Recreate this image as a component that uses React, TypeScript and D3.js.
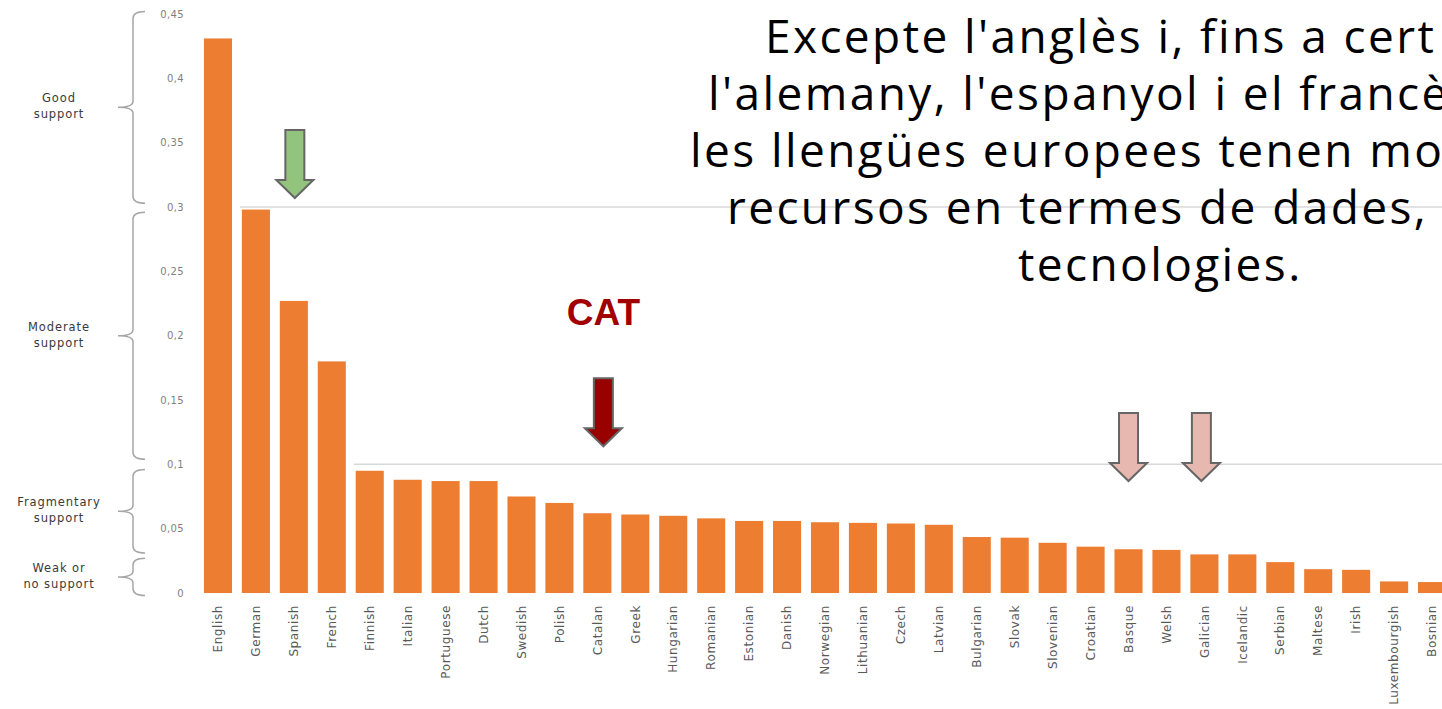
import React from "react";
import * as d3 from "d3";

const categories = [
  "English", "German", "Spanish", "French", "Finnish", "Italian", "Portuguese", "Dutch",
  "Swedish", "Polish", "Catalan", "Greek", "Hungarian", "Romanian", "Estonian", "Danish",
  "Norwegian", "Lithuanian", "Czech", "Latvian", "Bulgarian", "Slovak", "Slovenian", "Croatian",
  "Basque", "Welsh", "Galician", "Icelandic", "Serbian", "Maltese", "Irish", "Luxembourgish", "Bosnian",
];
const values = [
  0.431, 0.298, 0.227, 0.180, 0.095, 0.088, 0.087, 0.087,
  0.075, 0.070, 0.062, 0.061, 0.060, 0.058, 0.056, 0.056,
  0.055, 0.0545, 0.054, 0.053, 0.0435, 0.043, 0.039, 0.036,
  0.034, 0.0335, 0.030, 0.030, 0.024, 0.0185, 0.018, 0.009, 0.0085,
];
const tickValues = [0, 0.05, 0.1, 0.15, 0.2, 0.25, 0.3, 0.35, 0.4, 0.45];
const gridValues = [0.3, 0.1];

const supportGroups = [
  { lines: ["Good", "support"], top: 0.452, bottom: 0.303 },
  { lines: ["Moderate", "support"], top: 0.296, bottom: 0.104 },
  { lines: ["Fragmentary", "support"], top: 0.096, bottom: 0.031 },
  { lines: ["Weak or", "no support"], top: 0.027, bottom: -0.002 },
];

const arrows = [
  { cat: "Spanish", tip: 0.307, fill: "#93c47d", dx: 1 },
  { cat: "Catalan", tip: 0.114, fill: "#990000", dx: 6 },
  { cat: "Basque", tip: 0.087, fill: "#e6b8af", dx: 0 },
  { cat: "Galician", tip: 0.087, fill: "#e6b8af", dx: -3 },
];

const titleLines = [
  { text: "Excepte l'anglès i, fins a cert punt,", x: 765 },
  { text: "l'alemany, l'espanyol i el francès,", x: 708 },
  { text: "les llengües europees tenen molt pocs", x: 690 },
  { text: "recursos en termes de dades, eines i", x: 727 },
  { text: "tecnologies.", x: 1018 },
];

const W = 1442;
const H = 709;

export default function App() {
  const x = d3.scaleBand<string>().domain(categories).range([199, 1451]).paddingInner(0.26).paddingOuter(0.13);
  const y = d3.scaleLinear().domain([0, 0.45]).range([593, 14]);
  const bw = x.bandwidth();
  const fmt = (v: number) => String(+v.toFixed(2)).replace(".", ",");

  const brace = (yt: number, yb: number) => {
    const ym = (yt + yb) / 2;
    const xv = 133, xh = 145, xt = 118;
    return `M${xh},${yt} Q${xv},${yt} ${xv},${yt + 7} L${xv},${ym - 6} Q${xv},${ym} ${xt},${ym} Q${xv},${ym} ${xv},${ym + 6} L${xv},${yb - 7} Q${xv},${yb} ${xh},${yb}`;
  };

  const arrowPath = (tx: number, ty: number) => {
    const sw = 9.5, hw = 18.5, hh = 18, len = 68;
    return `M${tx - sw},${ty - len} L${tx + sw},${ty - len} L${tx + sw},${ty - hh} L${tx + hw},${ty - hh} L${tx},${ty} L${tx - hw},${ty - hh} L${tx - sw},${ty - hh} Z`;
  };

  return (
    <svg width={W} height={H} style={{ position: "absolute", left: 0, top: 0, background: "#fff" }}>
      <rect x={0} y={0} width={W} height={H} fill="#fff" />
      {gridValues.map((g) => {
        const idx = values.findIndex((v) => v < g);
        const x0 = (x(categories[idx]) as number) - 2;
        return <line key={g} x1={x0} x2={W} y1={y(g)} y2={y(g)} stroke="#d9d9d9" strokeWidth={1.5} />;
      })}
      {categories.map((c, i) => (
        <rect key={c} x={x(c)} y={y(values[i])} width={bw} height={y(0) - y(values[i])} fill="#ed7d31" />
      ))}
      {tickValues.map((t) => (
        <text key={t} x={184} y={y(t)} dy="0.35em" textAnchor="end" fontFamily="DejaVu Sans" fontSize={10} letterSpacing={0.4} fill="#7f7f7f">
          {fmt(t)}
        </text>
      ))}
      {supportGroups.map((g) => {
        const yt = y(g.top), yb = y(g.bottom), ym = (yt + yb) / 2;
        return (
          <g key={g.lines[0]}>
            <path d={brace(yt, yb)} fill="none" stroke="#a6a6a6" strokeWidth={1.5} />
            <text x={59} y={ym - 5} textAnchor="middle" fontFamily="DejaVu Sans" fontSize={11.5} letterSpacing={0.9} fill="#3a3a3a">
              {g.lines[0]}
            </text>
            <text x={59} y={ym + 11} textAnchor="middle" fontFamily="DejaVu Sans" fontSize={11.5} letterSpacing={0.9} fill="#3a3a3a">
              {g.lines[1]}
            </text>
          </g>
        );
      })}
      {categories.map((c) => {
        const cx = (x(c) as number) + bw / 2;
        return (
          <text key={c} transform={`translate(${cx},605) rotate(-90)`} dy="0.35em" textAnchor="end" fontFamily="DejaVu Sans" fontSize={12} letterSpacing={0.6} fill="#595959">
            {c}
          </text>
        );
      })}
      {arrows.map((a) => {
        const cx = (x(a.cat) as number) + bw / 2 + a.dx;
        return <path key={a.cat} d={arrowPath(cx, y(a.tip))} fill={a.fill} stroke="#666666" strokeWidth={2} strokeLinejoin="miter" />;
      })}
      <text x={(x("Catalan") as number) + bw / 2 + 6} y={325} textAnchor="middle" fontFamily="Liberation Sans" fontWeight="bold" fontSize={37} fill="#a00000">
        CAT
      </text>
      {titleLines.map((l, i) => (
        <text key={i} x={l.x} y={53 + i * 57} fontFamily="Open Sans" fontSize={46} letterSpacing={2.4} fill="#000">
          {l.text}
        </text>
      ))}
    </svg>
  );
}
